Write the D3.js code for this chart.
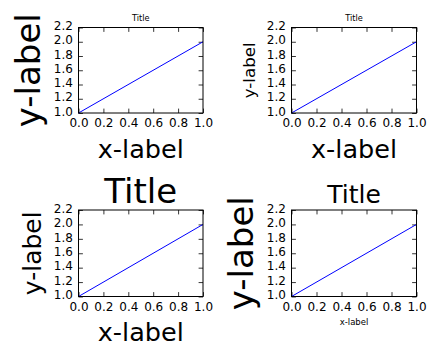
<!DOCTYPE html>
<html>
<head>
<meta charset="utf-8">
<script src="https://cdn.jsdelivr.net/npm/d3@7"></script>
<style>
  body { margin: 0; background: #fff; }
  svg { display: block; font-family: "DejaVu Sans", sans-serif; }
</style>
</head>
<body>
<svg id="fig" width="440" height="360"></svg>
<script>
// data: the same line in all four panels
const xValues = [0, 1];
const yValues = [1, 2];
const xTicks = [0, 0.2, 0.4, 0.6, 0.8, 1.0];
const yTicks = [1.0, 1.2, 1.4, 1.6, 1.8, 2.0, 2.2];
const titleText = "Title";
const xLabelText = "x-label";
const yLabelText = "y-label";

// per-panel font sizes (px) for title / x-label / y-label
const panels = [
    { box: [78.5, 27.5, 203, 113],    title: 8.2,  xlab: 25.5, ylab: 34 },
    { box: [291.5, 27.5, 416.5, 113], title: 8.2,  xlab: 25.5, ylab: 16.7 },
    { box: [78.5, 210, 203, 296.5],   title: 34,   xlab: 25.5, ylab: 25 },
    { box: [291.5, 210, 416.5, 296.5], title: 25,  xlab: 8.5,  ylab: 34 }
];

const svg = d3.select("#fig");
svg.append("rect").attr("width", 440).attr("height", 360).attr("fill", "#fff");

const tickLen = 4.4;
const fmt = d3.format(".1f");

function drawPanel(p) {
    const [x0, y0, x1, y1] = p.box;
    const w = x1 - x0, h = y1 - y0;
    const g = svg.append("g").attr("transform", `translate(${x0},${y0})`);

    const x = d3.scaleLinear().domain([0, 1]).range([0, w]);
    const y = d3.scaleLinear().domain([1.0, 2.2]).range([h, 0]);

    // axes with inward ticks on all four sides
    const bottom = g.append("g").attr("transform", `translate(0,${h})`)
        .call(d3.axisBottom(x).tickValues(xTicks).tickFormat(fmt)
            .tickSizeInner(-tickLen).tickSizeOuter(0).tickPadding(5.8));
    const left = g.append("g")
        .call(d3.axisLeft(y).tickValues(yTicks).tickFormat(fmt)
            .tickSizeInner(-tickLen).tickSizeOuter(0).tickPadding(5.6));
    const top = g.append("g")
        .call(d3.axisTop(x).tickValues(xTicks).tickFormat("")
            .tickSizeInner(-tickLen).tickSizeOuter(0));
    const right = g.append("g").attr("transform", `translate(${w},0)`)
        .call(d3.axisRight(y).tickValues(yTicks).tickFormat("")
            .tickSizeInner(-tickLen).tickSizeOuter(0));

    [bottom, left, top, right].forEach(a => {
        a.select(".domain").remove();
        a.selectAll("line").attr("stroke", "#000").attr("stroke-width", 0.8);
        a.selectAll("text").attr("fill", "#000")
            .style("font-family", "DejaVu Sans").style("font-size", "12px");
    });
    left.selectAll("text").attr("dy", "0.18em");

    // the line
    g.append("path")
        .datum(xValues.map((d, i) => [d, yValues[i]]))
        .attr("fill", "none")
        .attr("stroke", "#0000ff")
        .attr("stroke-width", 1)
        .attr("d", d3.line().x(d => x(d[0])).y(d => y(d[1])));

    // frame
    g.append("rect").attr("width", w).attr("height", h)
        .attr("fill", "none").attr("stroke", "#000").attr("stroke-width", 1);

    // title
    g.append("text")
        .attr("x", w / 2).attr("y", -6.8)
        .attr("text-anchor", "middle")
        .style("font-size", p.title + "px")
        .text(titleText);

    // x-label
    g.append("text")
        .attr("x", w / 2).attr("y", h + 21 + 0.93 * p.xlab)
        .attr("text-anchor", "middle")
        .style("font-size", p.xlab + "px")
        .text(xLabelText);

    // y-label, rotated
    const yl = -(34 + 0.13 * p.ylab);
    g.append("text")
        .attr("transform", `translate(${yl},${h / 2}) rotate(-90)`)
        .attr("text-anchor", "middle")
        .style("font-size", p.ylab + "px")
        .text(yLabelText);
}

panels.forEach(drawPanel);
</script>
</body>
</html>
